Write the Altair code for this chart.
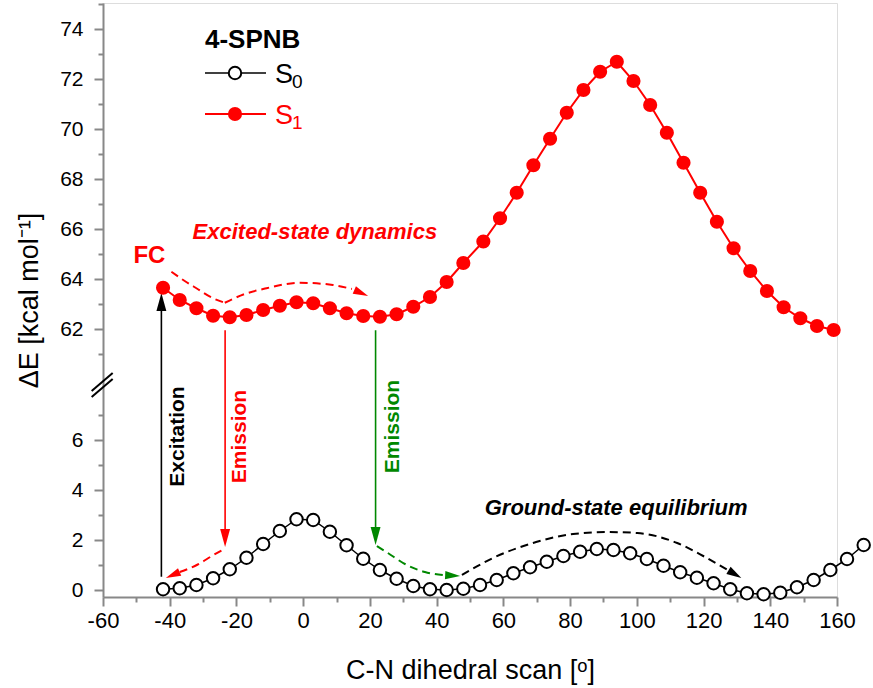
import altair as alt
import pandas as pd

# ---------------- data ----------------
s0_angle = [-42, -37, -32, -27, -22, -17, -12, -7, -2, 3, 8, 13, 18, 23, 28, 33, 38, 43, 48, 53,
            58, 63, 68, 73, 78, 83, 88, 93, 98, 103, 108, 113, 118, 123, 128, 133, 138, 143, 148,
            153, 158, 163, 168]
s0_energy = [0.03, 0.07, 0.20, 0.47, 0.83, 1.29, 1.84, 2.36, 2.83, 2.80, 2.33, 1.79, 1.25, 0.80,
             0.45, 0.16, 0.03, 0.00, 0.05, 0.20, 0.40, 0.67, 0.91, 1.13, 1.36, 1.53, 1.64, 1.60,
             1.47, 1.24, 0.97, 0.71, 0.49, 0.27, 0.03, -0.13, -0.17, -0.11, 0.11, 0.40, 0.80,
             1.24, 1.80]
s1_angle = [-42, -37, -32, -27, -22, -17, -12, -7, -2, 3, 8, 13, 18, 23, 28, 33, 38, 43, 48, 54,
            59, 64, 69, 74, 79, 84, 89, 94, 99, 104, 109, 114, 119, 124, 129, 134, 139, 144, 149,
            154, 159]
s1_energy = [63.65, 63.16, 62.83, 62.53, 62.47, 62.56, 62.76, 62.93, 63.07, 63.03, 62.83, 62.63,
             62.52, 62.49, 62.59, 62.89, 63.28, 63.88, 64.64, 65.50, 66.43, 67.45, 68.55, 69.61,
             70.65, 71.56, 72.29, 72.69, 71.92, 70.96, 69.85, 68.65, 67.45, 66.29, 65.23, 64.32,
             63.52, 62.87, 62.43, 62.12, 61.96]

x_ticks = list(range(-60, 161, 10))
y_ticks_low = [0, 1, 2, 3, 4, 5, 6, 7]
y_ticks_high = list(range(61, 76))

series_names = ["S", "S"]
series_subs = ["0", "1"]
legend_title = "4-SPNB"

# broken axis: the upper segment (S1 energies) is shifted down by this amount
BREAK = 51.56


def u(e, upper):
    return e - BREAK if upper else e


# annotation geometry (angle, energy, segment-is-upper)
excited_a_x = [-39.5, -35.5, -32.0, -27.0, -23.5]
excited_a_e = [64.29, 63.92, 63.63, 63.23, 63.05]
excited_b_x = [-23.5, -17.5, -11.0, -1.0, 8.9, 14.6]
excited_b_e = [63.05, 63.40, 63.63, 63.85, 63.76, 63.60]
red_s0_x = [-23.7, -27.4, -31.6, -37.0]
red_s0_e = [1.64, 1.36, 1.02, 0.72]
green_s0_x = [22.1, 25.4, 30.5, 36.5, 42.5]
green_s0_e = [1.76, 1.48, 1.04, 0.72, 0.59]
black_s0_x = [47.6, 56.9, 68.9, 80.9, 91.1, 100.1, 112.1, 119.9, 127.5]
black_s0_e = [0.60, 1.28, 1.88, 2.24, 2.32, 2.28, 1.88, 1.36, 0.78]

RED = "#ff0000"
GREEN = "#008800"
BLACK = "#000000"
FONT = "Liberation Sans"

# ---------------- tables ----------------
df0 = pd.DataFrame({"x": s0_angle, "u": [u(e, False) for e in s0_energy]})
df1 = pd.DataFrame({"x": s1_angle, "u": [u(e, True) for e in s1_energy]})

curve_rows = []
for seg, xs, es, up, col in [
    ("a", excited_a_x, excited_a_e, True, RED),
    ("b", excited_b_x, excited_b_e, True, RED),
    ("c", red_s0_x, red_s0_e, False, RED),
    ("d", green_s0_x, green_s0_e, False, GREEN),
    ("e", black_s0_x, black_s0_e, False, BLACK),
]:
    for xv, ev in zip(xs, es):
        curve_rows.append({"x": xv, "u": u(ev, up), "seg": seg, "c": col})
df_curves = pd.DataFrame(curve_rows)

df_vrules = pd.DataFrame([
    {"x": -42.5, "u": u(0.53, False), "u2": u(63.08, True), "c": BLACK},
    {"x": -23.4, "u": u(61.95, True), "u2": u(2.08, False), "c": RED},
    {"x": 21.7, "u": u(61.95, True), "u2": u(2.16, False), "c": GREEN},
])

df_heads = pd.DataFrame([
    {"x": 17.4, "u": u(63.44, True), "ang": 113, "c": RED, "sz": 225},
    {"x": -39.1, "u": u(0.60, False), "ang": 247, "c": RED, "sz": 225},
    {"x": 44.8, "u": u(0.58, False), "ang": 93, "c": GREEN, "sz": 225},
    {"x": 129.4, "u": u(0.63, False), "ang": 121, "c": BLACK, "sz": 225},
    {"x": -42.5, "u": u(63.08, True), "ang": 0, "c": BLACK, "sz": 324},
    {"x": -23.4, "u": u(2.08, False), "ang": 180, "c": RED, "sz": 324},
    {"x": 21.7, "u": u(2.16, False), "ang": 180, "c": GREEN, "sz": 324},
])

df_breaks = pd.DataFrame([
    {"x": -63.4, "x2": -57.1, "u": 7.96, "u2": 8.68},
    {"x": -63.4, "x2": -57.1, "u": 7.72, "u2": 8.44},
])

# ---------------- scales & axes ----------------
xscale = alt.Scale(domain=[-60, 160], nice=False, zero=False)
yscale = alt.Scale(domain=[-0.28, 23.48], nice=False, zero=False)

y_vals = [float(v) for v in y_ticks_low] + [round(v - BREAK, 4) for v in y_ticks_high]
major_y = f"(datum.value < 8.5 ? datum.value % 2 == 0 : round(datum.value + {BREAK}) % 2 == 0)"

xaxis = alt.Axis(
    values=x_ticks,
    labelExpr="datum.value % 20 == 0 ? '' + datum.value : ''",
    tickSize={"condition": {"test": "datum.value % 20 != 0", "value": 5}, "value": 9},
    title="C-N dihedral scan [ᵒ]",
    titleFontSize=27, titleFontWeight="normal", titlePadding=26,
    labelFontSize=22, labelPadding=4,
    labelOverlap=False, labelFlush=False, grid=False,
    domainWidth=2, tickWidth=2,
)
yaxis = alt.Axis(
    values=y_vals,
    labelExpr=(f"datum.value < 8.5 ? (datum.value % 2 == 0 ? '' + datum.value : '') : "
               f"(round(datum.value + {BREAK}) % 2 == 0 ? '' + round(datum.value + {BREAK}) : '')"),
    tickSize={"condition": {"test": "!" + major_y, "value": 5}, "value": 9},
    title="ΔE [kcal mol⁻¹]",
    titleFontSize=27, titleFontWeight="normal", titlePadding=16,
    labelFontSize=21, labelPadding=11,
    labelOverlap=False, labelFlush=False, grid=False,
    domainWidth=2, tickWidth=2,
)

X = alt.X("x:Q", scale=xscale, axis=xaxis)
Y = alt.Y("u:Q", scale=yscale, axis=yaxis)

# ---------------- layers ----------------
s0_line = alt.Chart(df0).mark_line(color=BLACK, strokeWidth=1.5).encode(x=X, y=Y)
s0_pts = alt.Chart(df0).mark_point(shape="circle", filled=True, fill="white", stroke=BLACK,
                                   strokeWidth=2, size=155, opacity=1).encode(x=X, y=Y)
s1_line = alt.Chart(df1).mark_line(color=RED, strokeWidth=2).encode(x=X, y=Y)
s1_pts = alt.Chart(df1).mark_point(shape="circle", filled=True, color=RED, size=200,
                                   opacity=1).encode(x=X, y=Y)

curves = alt.Chart(df_curves).mark_line(strokeDash=[8, 5], strokeWidth=2, interpolate="monotone").encode(
    x=X, y=Y, detail="seg:N", color=alt.Color("c:N", scale=None))

vrules = alt.Chart(df_vrules).mark_rule(strokeWidth=1.6).encode(
    x=X, y=Y, y2="u2:Q", color=alt.Color("c:N", scale=None))

heads = alt.Chart(df_heads).mark_point(shape="M0,-1L0.55,1L-0.55,1Z", filled=True, opacity=1,
                                       strokeWidth=0).encode(
    x=X, y=Y, angle=alt.Angle("ang:Q", scale=None), color=alt.Color("c:N", scale=None),
    size=alt.Size("sz:Q", scale=None))

breaks = alt.Chart(df_breaks).mark_rule(color=BLACK, strokeWidth=2).encode(
    x=X, x2="x2:Q", y=Y, y2="u2:Q")


def label(text, xv, uv, color, size, angle=0, style="normal"):
    d = pd.DataFrame({"x": [xv], "u": [uv], "t": [text]})
    return alt.Chart(d).mark_text(color=color, fontSize=size, fontWeight="bold", fontStyle=style,
                                  angle=angle, align="center", baseline="middle", font=FONT).encode(
        x=X, y=Y, text="t:N")


texts = [
    label("FC", -46.1, u(64.94, True), RED, 24),
    label("Excited-state dynamics", 3.5, u(65.90, True), RED, 22, style="italic"),
    label("Ground-state equilibrium", 93.8, u(3.28, False), BLACK, 22, style="italic"),
    label("Excitation", -37.4, u(6.14, False), BLACK, 21, angle=270),
    label("Emission", -18.8, u(6.14, False), RED, 21, angle=270),
    label("Emission", 27.0, u(6.54, False), GREEN, 21, angle=270),
]


# ---------------- manual legend (pixel positions inside plot) ----------------
def ptext(text, px, py, color, size, weight="normal", baseline="alphabetic"):
    d = pd.DataFrame({"t": [text]})
    return alt.Chart(d).mark_text(color=color, fontSize=size, fontWeight=weight, align="left",
                                  baseline=baseline, font=FONT).encode(
        x=alt.value(px), y=alt.value(py), text="t:N")


legend_layers = [ptext(legend_title, 102, 45, BLACK, 26, weight="bold")]
for (name, sub, col, py, filled) in [
    (series_names[0], series_subs[0], BLACK, 70, False),
    (series_names[1], series_subs[1], RED, 111, True),
]:
    d = pd.DataFrame({"k": [name + sub]})
    legend_layers.append(alt.Chart(d).mark_rule(color=col, strokeWidth=2 if filled else 1.5).encode(
        x=alt.value(102), x2=alt.value(163), y=alt.value(py)))
    if filled:
        legend_layers.append(alt.Chart(d).mark_point(shape="circle", filled=True, color=col,
                                                     size=200, opacity=1).encode(
            x=alt.value(132), y=alt.value(py)))
    else:
        legend_layers.append(alt.Chart(d).mark_point(shape="circle", filled=True, fill="white",
                                                     stroke=col, strokeWidth=2, size=155,
                                                     opacity=1).encode(
            x=alt.value(132), y=alt.value(py)))
    legend_layers.append(ptext(name, 172, py + 10, col, 27))
    legend_layers.append(ptext(sub, 189, py + 15, col, 19))

chart = alt.layer(
    curves, vrules, heads, breaks,
    s0_line, s0_pts, s1_line, s1_pts,
    *texts, *legend_layers,
).properties(
    width=734, height=594,
    autosize="none",
    padding={"left": 103, "top": 3, "right": 36, "bottom": 91},
).configure_view(
    stroke=BLACK, strokeWidth=2,
).configure_axis(
    labelFont=FONT, titleFont=FONT, labelColor=BLACK, titleColor=BLACK,
    domainColor=BLACK, tickColor=BLACK,
).configure(background="white")

chart.save("out.html", embed_options={"renderer": "svg", "actions": False})
